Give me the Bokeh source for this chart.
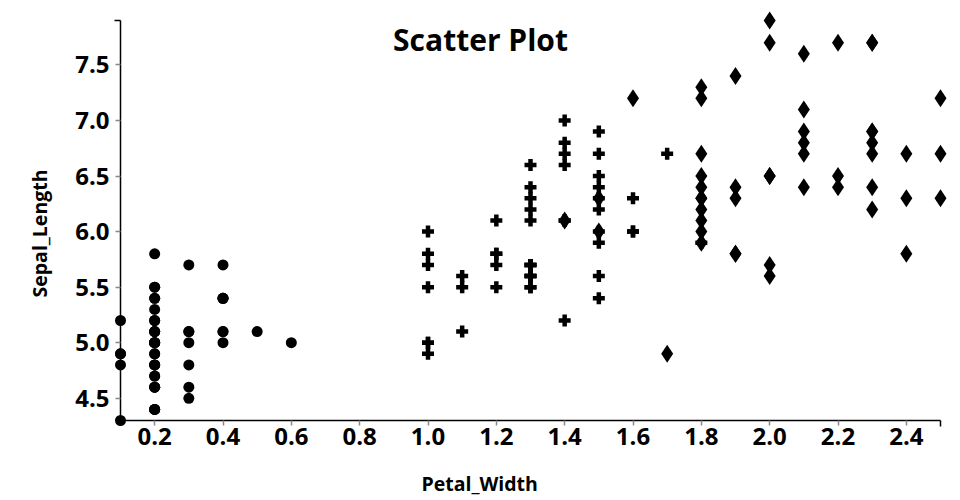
from bokeh.plotting import figure
from bokeh.models import Range1d, FixedTicker, Label, Title, NumeralTickFormatter, LinearAxis
from bokeh.embed import file_html
from bokeh.resources import INLINE

# Iris data (Petal_Width, Sepal_Length) by species
setosa_petal_width = [0.2,0.2,0.2,0.2,0.2,0.4,0.3,0.2,0.2,0.1,0.2,0.2,0.1,0.1,0.2,0.4,0.4,0.3,0.3,0.3,
                      0.2,0.4,0.2,0.5,0.2,0.2,0.4,0.2,0.2,0.2,0.2,0.4,0.1,0.2,0.2,0.2,0.2,0.1,0.2,0.2,
                      0.3,0.3,0.2,0.6,0.4,0.3,0.2,0.2,0.2,0.2]
setosa_sepal_length = [5.1,4.9,4.7,4.6,5.0,5.4,4.6,5.0,4.4,4.9,5.4,4.8,4.8,4.3,5.8,5.7,5.4,5.1,5.7,5.1,
                       5.4,5.1,4.6,5.1,4.8,5.0,5.0,5.2,5.2,4.7,4.8,5.4,5.2,5.5,4.9,5.0,5.5,4.9,4.4,5.1,
                       5.0,4.5,4.4,5.0,5.1,4.8,5.1,4.6,5.3,5.0]
versicolor_petal_width = [1.4,1.5,1.5,1.3,1.5,1.3,1.6,1.0,1.3,1.4,1.0,1.5,1.0,1.4,1.3,1.4,1.5,1.0,1.5,1.1,
                          1.8,1.3,1.5,1.2,1.3,1.4,1.4,1.7,1.5,1.0,1.1,1.0,1.2,1.6,1.5,1.6,1.5,1.3,1.3,1.3,
                          1.2,1.4,1.2,1.0,1.3,1.2,1.3,1.3,1.1,1.3]
versicolor_sepal_length = [7.0,6.4,6.9,5.5,6.5,5.7,6.3,4.9,6.6,5.2,5.0,5.9,6.0,6.1,5.6,6.7,5.6,5.8,6.2,5.6,
                           5.9,6.1,6.3,6.1,6.4,6.6,6.8,6.7,6.0,5.7,5.5,5.5,5.8,6.0,5.4,6.0,6.7,6.3,5.6,5.5,
                           5.5,6.1,5.8,5.0,5.6,5.7,5.7,6.2,5.1,5.7]
virginica_petal_width = [2.5,1.9,2.1,1.8,2.2,2.1,1.7,1.8,1.8,2.5,2.0,1.9,2.1,2.0,2.4,2.3,1.8,2.2,2.3,1.5,
                         2.3,2.0,2.0,1.8,2.1,1.8,1.8,1.8,2.1,1.6,1.9,2.0,2.2,1.5,1.4,2.3,2.4,1.8,1.8,2.1,
                         2.4,2.3,1.9,2.3,2.5,2.3,1.9,2.0,2.3,1.8]
virginica_sepal_length = [6.3,5.8,7.1,6.3,6.5,7.6,4.9,7.3,6.7,7.2,6.5,6.4,6.8,5.7,5.8,6.4,6.5,7.7,7.7,6.0,
                          6.9,5.6,7.7,6.3,6.7,7.2,6.2,6.1,6.4,7.2,7.4,7.9,6.4,6.3,6.1,7.7,6.3,6.4,6.0,6.9,
                          6.7,6.9,5.8,6.8,6.7,6.7,6.3,6.5,6.2,5.9]

x_domain = (0.1, 2.5)
y_domain = (4.3, 7.9)
x_ticks = [0.2, 0.4, 0.6, 0.8, 1.0, 1.2, 1.4, 1.6, 1.8, 2.0, 2.2, 2.4]
y_ticks = [4.5, 5.0, 5.5, 6.0, 6.5, 7.0, 7.5]

FONT = "Open Sans"
TICK_FONT_SIZE = "24px"

# frame padded by 10px on each side so edge markers are not clipped
xpad = (x_domain[1] - x_domain[0]) * 10 / 820
ypad = (y_domain[1] - y_domain[0]) * 10 / 400

p = figure(width=960, height=500, output_backend="svg", toolbar_location=None,
           x_range=Range1d(x_domain[0] - xpad, x_domain[1] + xpad),
           y_range=Range1d(y_domain[0] - ypad, y_domain[1] + ypad),
           x_axis_location=None, y_axis_location=None,
           min_border_left=110, min_border_right=10, min_border_top=10, min_border_bottom=70)
p.outline_line_color = None
p.xgrid.visible = False
p.ygrid.visible = False
p.background_fill_color = "white"

p.scatter(setosa_petal_width, setosa_sepal_length, marker="circle", size=11,
          fill_color="black", line_color=None)
p.scatter(versicolor_petal_width, versicolor_sepal_length, marker="plus", size=12,
          fill_color="black", line_color=None)
p.scatter(virginica_petal_width, virginica_sepal_length, marker="diamond", size=18,
          fill_color="black", line_color=None)


def line_axis(ticks, end, bounds, loc):
    ax = LinearAxis(ticker=FixedTicker(ticks=ticks, minor_ticks=[end]), bounds=bounds,
                    fixed_location=loc)
    ax.axis_line_color = "black"
    ax.axis_line_width = 1.5
    ax.major_tick_line_color = "#888888"
    ax.major_tick_line_width = 1.5
    ax.major_tick_out = 5
    ax.major_tick_in = 0
    ax.minor_tick_line_color = "black"
    ax.minor_tick_line_width = 1.5
    ax.minor_tick_out = 6
    ax.minor_tick_in = 0
    ax.major_label_text_font_size = "0px"
    ax.major_label_text_alpha = 0
    return ax


def label_axis(ticks, standoff, gap):
    ax = LinearAxis(ticker=FixedTicker(ticks=ticks), formatter=NumeralTickFormatter(format="0.0"))
    ax.axis_line_color = None
    ax.major_tick_line_color = None
    ax.minor_tick_line_color = None
    ax.major_tick_out = 0
    ax.major_tick_in = 0
    ax.minor_tick_out = 0
    ax.minor_tick_in = 0
    ax.major_label_text_font = FONT
    ax.major_label_text_font_style = "bold"
    ax.major_label_text_font_size = TICK_FONT_SIZE
    ax.major_label_text_color = "black"
    ax.major_label_standoff = standoff
    # invisible spacer label: reserves room between tick labels and axis title
    ax.axis_label = "."
    ax.axis_label_text_font_size = "1px"
    ax.axis_label_text_alpha = 0
    ax.axis_label_standoff = gap
    return ax


x_line = line_axis(x_ticks, x_domain[1], x_domain, y_domain[0])
y_line = line_axis(y_ticks, y_domain[1], y_domain, x_domain[0])
x_lab = label_axis(x_ticks, -3, 14)
y_lab = label_axis(y_ticks, 1, 5)

x_title = Title(text="Petal_Width", align="left", offset=311, standoff=4,
                text_font=FONT, text_font_style="bold", text_font_size="19.5px",
                text_color="black")
y_title = Title(text="Sepal_Length", align="left", offset=133, standoff=22,
                text_font=FONT, text_font_style="bold", text_font_size="19.5px",
                text_color="black")

p.below = [x_lab, x_line, x_title]
p.left = [y_lab, y_line, y_title]

p.add_layout(Label(x=370, y=391, x_units="screen", y_units="screen", text="Scatter Plot",
                   text_font=FONT, text_font_style="bold", text_font_size="30px",
                   text_align="center", text_baseline="middle", text_color="black"))

open("out.html", "w").write(file_html(p, INLINE))
